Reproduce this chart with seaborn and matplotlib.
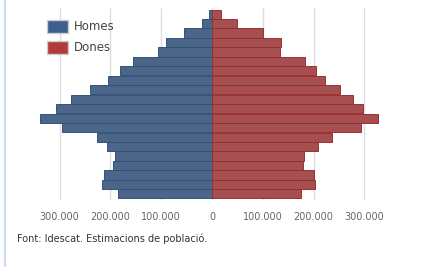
import matplotlib
matplotlib.use("Agg")
import matplotlib.pyplot as plt
from matplotlib.patches import Patch
from matplotlib.lines import Line2D
import seaborn as sns
import pandas as pd

# Age groups, oldest at top
ages = ["95+", "90-94", "85-89", "80-84", "75-79", "70-74", "65-69", "60-64",
        "55-59", "50-54", "45-49", "40-44", "35-39", "30-34", "25-29", "20-24",
        "15-19", "10-14", "5-9", "0-4"]
homes = [5300, 20000, 55000, 91000, 106000, 156000, 182000, 204000, 240000, 278000,
         307000, 339000, 295000, 227000, 206000, 191000, 194000, 213000, 216000, 186000]
dones = [17000, 50000, 100000, 136000, 133000, 184000, 205000, 222000, 252000, 278000,
         297000, 326000, 293000, 237000, 209000, 181000, 180000, 201000, 203000, 175000]
tick_vals = [-300000, -200000, -100000, 0, 100000, 200000, 300000]
tick_labels = ["300.000", "200.000", "100.000", "0", "100.000", "200.000", "300.000"]
series = ["Homes", "Dones"]
colors = ["#3b6090", "#b23a3c"]
edges = ["#2f5079", "#9a2c2e"]

df = pd.DataFrame({
    "age": ages * 2,
    "value": [-v for v in homes] + dones,
    "sex": [series[0]] * len(ages) + [series[1]] * len(ages),
})

sns.set_theme(style="white")
plt.rcParams["font.family"] = ["DejaVu Sans"]

fig = plt.figure(figsize=(4.28, 2.67), dpi=100)
ax = fig.add_axes([34.2 / 428, 67 / 267, 355.6 / 428, 192 / 267])

sns.barplot(data=df, x="value", y="age", hue="sex", order=ages, hue_order=series,
            palette=colors, dodge=False, orient="h", width=0.97, legend=False,
            ax=ax, zorder=2)

for i, bars in enumerate(ax.containers):
    for b in bars:
        b.set_edgecolor(edges[i])
        b.set_linewidth(0.7)
        b.set_alpha(0.97)

ax.set_xlim(-350000, 350000)
ax.set_ylim(len(ages) - 0.5 + 0.15, -0.5 - 0.15)
ax.set_xticks(tick_vals)
ax.set_xticklabels(tick_labels, color="#666666", fontsize=7)
ax.set_yticks([])
ax.set_xlabel("")
ax.set_ylabel("")
ax.tick_params(axis="x", length=0, pad=9)
ax.grid(axis="x", color="#dddddd", linewidth=1, zorder=0)
ax.set_axisbelow(True)
for s in ax.spines.values():
    s.set_visible(False)

handles = [Patch(facecolor=colors[i], edgecolor="#cccccc", linewidth=1, label=series[i])
           for i in range(2)]
leg = fig.legend(handles=handles, loc="upper left", bbox_to_anchor=(47 / 428, 1 - 20 / 267),
                 frameon=False, fontsize=8.5, handlelength=1.75, handleheight=1.3,
                 handletextpad=0.5, labelspacing=0.65, borderaxespad=0, borderpad=0)
for t in leg.get_texts():
    t.set_color("#444444")

fig.text(17 / 428, 1 - 239 / 267, "Font: Idescat. Estimacions de població.",
         fontsize=7, color="#333333", va="center", ha="left")

fig.add_artist(Line2D([5 / 428, 5 / 428], [0, 1], transform=fig.transFigure,
                      color="#c9dcf2", linewidth=1.5))

fig.savefig("out.png", dpi=100)
